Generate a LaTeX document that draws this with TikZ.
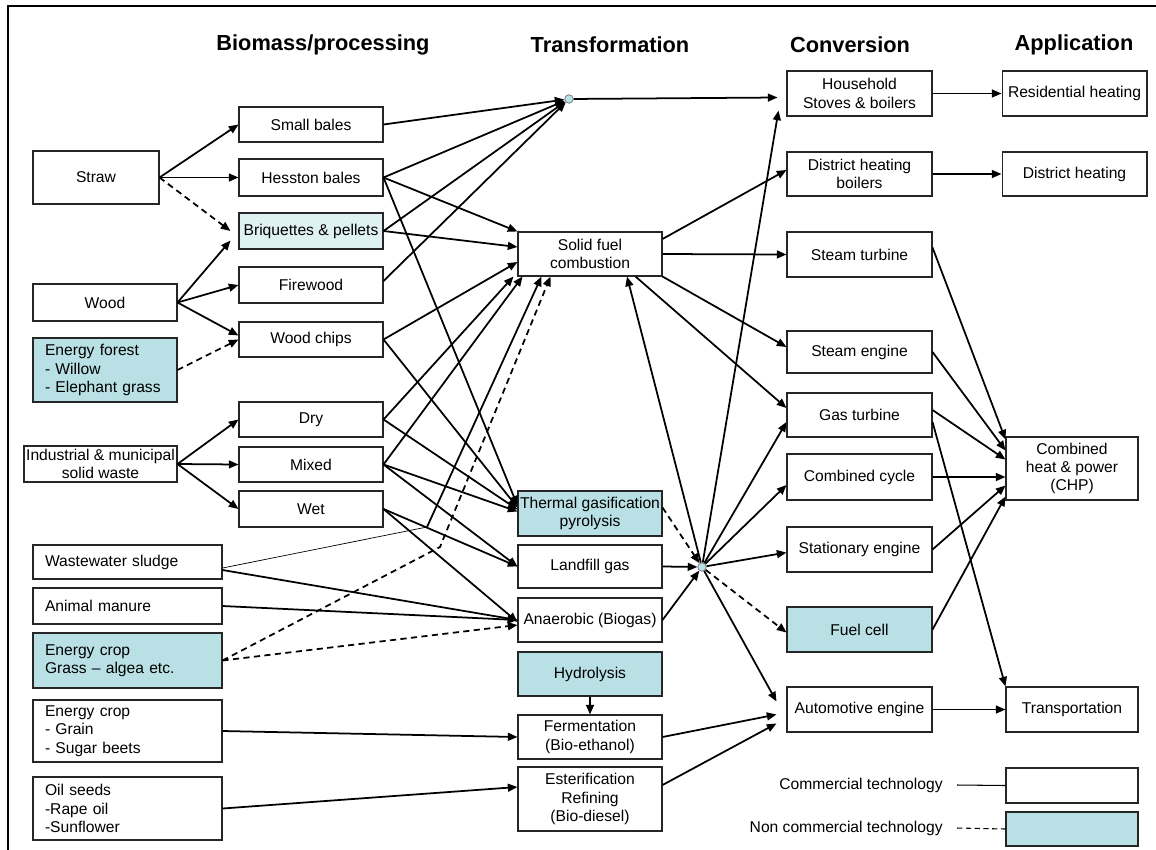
\documentclass[tikz,border=0pt]{standalone}
\usepackage{fontspec}
\setmainfont{Liberation Sans}
\usetikzlibrary{arrows.meta,calc}

\definecolor{ncblue}{RGB}{185,224,228}
\definecolor{ncpale}{RGB}{224,241,243}
\newcommand{\boxfont}{\fontsize{8.9}{10.4}\selectfont}
\newcommand{\headfont}{\fontsize{12.4}{14}\selectfont\bfseries}

\tikzset{
  box/.style={draw=black!85, line width=0.6pt, fill=white, align=center, inner sep=1pt,
    font=\boxfont, minimum width=2.88cm, minimum height=0.72cm},
  ncbox/.style={box, fill=ncblue},
  lbox/.style={box, align=left, inner xsep=0.24cm},
  hub/.style={circle, draw=black!55, line width=0.4pt, fill=ncblue, inner sep=0pt, minimum size=0.17cm},
  flow/.style={line width=1pt, -{Triangle[length=5.5pt,width=4.5pt]}},
  ncflow/.style={flow, dash pattern=on 3.5pt off 2.5pt},
  head/.style={font=\headfont}
}

\begin{document}
\begin{tikzpicture}[x=0.02cm, y=-0.02cm]

    \useasboundingbox (0,0) rectangle (1156,849);
    \draw[line width=1.2pt] (8,850) -- (8,6) -- (1157,6);

    \node[head] (hbio) at (323,45) {Biomass/processing};
    \node[head] (htra) at (610,45) {Transformation};
    \node[head] (hcon) at (850,45) {Conversion};
    \node[head] (happ) at (1074,45) {Application};

    % biomass
    \node[box, minimum width=2.52cm, minimum height=1.06cm] (straw) at (96,177.5) {Straw};
    \node[box, minimum height=0.74cm] (wood) at (105,302.5) {Wood};
    \node[lbox, fill=ncblue, text width=2.4cm, minimum height=1.28cm] (forest) at (105,370) {Energy forest\\- Willow\\- Elephant grass};
    \node[box, minimum width=3.06cm] (waste) at (100.5,464) {Industrial \& municipal\\solid waste};
    \node[lbox, text width=3.3cm, minimum height=0.68cm] (sludge) at (127.5,562) {Wastewater sludge};
    \node[lbox, text width=3.3cm] (manure) at (127.5,606) {Animal manure};
    \node[lbox, fill=ncblue, text width=3.3cm, minimum height=1.1cm] (grass) at (127.5,660.5) {Energy crop\\Grass -- algea etc.};
    \node[lbox, text width=3.3cm, minimum height=1.24cm] (grain) at (127.5,731) {Energy crop\\- Grain\\- Sugar beets};
    \node[lbox, text width=3.3cm, minimum height=1.26cm] (oil) at (127.5,808.5) {Oil seeds\\-Rape oil\\-Sunflower};

    % processing
    \node[box, minimum height=0.7cm] (small) at (311,124.5) {Small bales};
    \node[box, minimum height=0.74cm] (hesston) at (311,177.5) {Hesston bales};
    \node[box, fill=ncpale] (briq) at (311,231) {Briquettes \& pellets};
    \node[box] (firewood) at (311,285) {Firewood};
    \node[box, minimum height=0.7cm] (chips) at (311,339.5) {Wood chips};
    \node[box, minimum height=0.7cm] (dry) at (311,419.5) {Dry};
    \node[box, minimum height=0.7cm] (mixed) at (311,464.5) {Mixed};
    \node[box] (wet) at (311,509) {Wet};

    % transformation
    \node[hub] (hubA) at (569,99) {};
    \node[box, minimum height=0.88cm] (solid) at (590,254) {Solid fuel\\combustion};
    \node[ncbox, minimum height=0.9cm] (thermal) at (590,513.5) {Thermal gasification\\pyrolysis};
    \node[box, minimum height=0.86cm] (landfill) at (590,566.5) {Landfill gas};
    \node[box, minimum height=0.88cm] (anaerobic) at (590,620) {Anaerobic (Biogas)};
    \node[ncbox, minimum height=0.88cm] (hydro) at (590,674) {Hydrolysis};
    \node[box, minimum height=0.88cm] (ferment) at (590,737) {Fermentation\\(Bio-ethanol)};
    \node[box, minimum height=1.28cm] (ester) at (590,799) {Esterification\\Refining\\(Bio-diesel)};
    \node[hub] (hubB) at (702,567) {};

    % conversion
    \node[box, minimum width=2.9cm, minimum height=0.9cm] (household) at (859.5,93.5) {Household\\Stoves \& boilers};
    \node[box, minimum width=2.9cm, minimum height=0.88cm] (dhboil) at (859.5,174) {District heating\\boilers};
    \node[box, minimum width=2.9cm, minimum height=0.9cm] (sturb) at (859.5,254.5) {Steam turbine};
    \node[box, minimum width=2.9cm, minimum height=0.84cm] (steng) at (859.5,352) {Steam engine};
    \node[box, minimum width=2.9cm, minimum height=0.88cm] (gturb) at (859.5,415) {Gas turbine};
    \node[box, minimum width=2.9cm, minimum height=0.92cm] (ccycle) at (859.5,477) {Combined cycle};
    \node[box, minimum width=2.9cm, minimum height=0.9cm] (stat) at (859.5,549.5) {Stationary engine};
    \node[ncbox, minimum width=2.9cm, minimum height=0.9cm] (fuel) at (859.5,629.5) {Fuel cell};
    \node[box, minimum width=2.9cm, minimum height=0.9cm] (auto) at (859.5,709.5) {Automotive engine};

    % application
    \node[box, minimum width=2.9cm, minimum height=0.9cm] (res) at (1074.5,93.5) {Residential heating};
    \node[box, minimum width=2.9cm, minimum height=0.88cm] (dh) at (1074.5,174) {District heating};
    \node[box, minimum width=2.64cm, minimum height=1.26cm] (chp) at (1072,468.5) {Combined\\heat \& power\\(CHP)};
    \node[box, minimum width=2.64cm, minimum height=0.9cm] (trans) at (1072,709.5) {Transportation};

    % legend
    \node[box, minimum width=2.64cm, minimum height=0.7cm] (comm) at (1072,785.5) {};
    \node[ncbox, minimum width=2.64cm, minimum height=0.68cm] (noncomm) at (1072,829) {};
    \node[font=\boxfont, anchor=east, inner sep=0pt] (commlbl) at (943,785) {Commercial technology};
    \node[font=\boxfont, anchor=east, inner sep=0pt] (noncommlbl) at (943,828) {Non commercial technology};
    \draw[line width=0.6pt] ($(commlbl.east)+(14,0)$) -- (comm.west);
    \draw[line width=0.6pt, dash pattern=on 3pt off 2pt] ($(noncommlbl.east)+(14,0)$) -- (noncomm.west);

    % biomass -> processing
    \draw[flow] (straw.east) -- (small.west);
    \draw[flow] (straw.east) -- (hesston.west);
    \draw[ncflow] (straw.east) -- ($(briq.west)+(-8,0)$);
    \draw[flow] (wood.east) -- ($(briq.south west)+(-8,-9)$);
    \draw[flow] (wood.east) -- (firewood.west);
    \draw[flow] (wood.east) -- ($(chips.west)+(0,-4)$);
    \draw[ncflow] (forest.east) -- (chips.west);
    \foreach \n in {dry,mixed,wet}
        \draw[flow] (waste.east) -- (\n.west);

    % processing -> transformation
    \foreach \n in {small,hesston,briq}
        \draw[flow] (\n.east) -- (hubA);
    \draw[flow] ($(firewood.east)+(0,-4)$) -- (hubA);
    \draw[flow] (hesston.east) -- (solid.north west);
    \draw[flow] (briq.east) -- ($(solid.west)+(0,-7)$);
    \draw[flow] (chips.east) -- ($(solid.west)+(0,8)$);
    \draw[flow] (dry.east) -- ($(solid.south west)+(-4,0)$);
    \draw[flow] (mixed.east) -- ($(solid.south west)+(5,0)$);
    \coordinate (sbend) at (427,527);
    \draw[line width=0.4pt] ($(sludge.east)+(0,6)$) -- (sbend);
    \draw[flow] (sbend) -- ($(solid.south west)+(24,0)$);
    \coordinate (gbend) at (440,547);
    \draw[ncflow] (grass.east) -- (gbend) -- ($(solid.south west)+(33,0)$);
    \draw[flow] (hesston.east) -- ($(thermal.west)+(0,-8)$);
    \draw[flow] (chips.east) -- ($(thermal.west)+(0,-6)$);
    \draw[flow] (dry.east) -- ($(thermal.west)+(0,-4)$);
    \draw[flow] (mixed.east) -- ($(thermal.west)+(0,-2)$);
    \draw[flow] (mixed.east) -- (landfill.west);
    \draw[flow] (wet.east) -- (landfill.west);
    \draw[flow] (wet.east) -- ($(anaerobic.west)+(0,2)$);
    \draw[flow] ($(sludge.east)+(0,8)$) -- (anaerobic.west);
    \draw[flow] (manure.east) -- (anaerobic.west);
    \draw[ncflow] (grass.east) -- ($(anaerobic.west)+(0,5)$);
    \draw[flow] (hydro.south) -- (ferment.north);
    \draw[flow] (grain.east) -- (ferment.west);
    \draw[flow] (oil.east) -- ($(ester.west)+(0,-12)$);

    % transformation -> conversion
    \draw[flow] (hubA) -- ($(household.west)+(-9,4)$);
    \draw[ncflow] ($(thermal.east)+(0,-6)$) -- (hubB);
    \draw[flow] (landfill.east) -- (hubB);
    \draw[flow] (anaerobic.east) -- (hubB);
    \draw[flow] (hubB) -- ($(solid.south)+(37,0)$);
    \draw[flow] (hubB) -- ($(household.south west)+(-8,-6)$);
    \draw[flow] (hubB) -- ($(gturb.west)+(0,7)$);
    \draw[flow] (hubB) -- ($(ccycle.west)+(0,8)$);
    \draw[flow] (hubB) -- ($(stat.west)+(0,3)$);
    \draw[ncflow] (hubB) -- ($(fuel.west)+(0,3)$);
    \draw[flow] (hubB) -- ($(auto.west)+(-10,-8)$);
    \draw[flow] ($(solid.east)+(0,-15)$) -- ($(dhboil.west)+(0,-4)$);
    \draw[flow] (solid.east) -- (sturb.west);
    \draw[flow] (solid.south east) -- ($(steng.west)+(0,-5)$);
    \draw[flow] ($(solid.south east)+(-27,0)$) -- ($(gturb.west)+(0,-7)$);
    \draw[flow] (ferment.east) -- ($(auto.west)+(-10,5)$);
    \draw[flow] ($(ester.east)+(0,-14)$) -- ($(auto.west)+(-10,14)$);

    % conversion -> application
    \draw[flow] (household.east) -- (res.west);
    \draw[flow] (dhboil.east) -- (dh.west);
    \draw[flow] ($(sturb.east)+(0,-7)$) -- ($(chp.west)+(0,-29)$);
    \draw[flow] (steng.east) -- ($(chp.west)+(0,-18)$);
    \draw[flow] ($(gturb.east)+(0,-5)$) -- ($(chp.west)+(0,-9)$);
    \draw[flow] ($(gturb.east)+(0,7)$) -- (trans.north west);
    \draw[flow] (ccycle.east) -- (chp.west |- ccycle.east);
    \draw[flow] (stat.east) -- ($(chp.west)+(0,17)$);
    \draw[flow] (fuel.east) -- ($(chp.west)+(0,28)$);
    \draw[flow] (auto.east) -- (trans.west);

\end{tikzpicture}
\end{document}
